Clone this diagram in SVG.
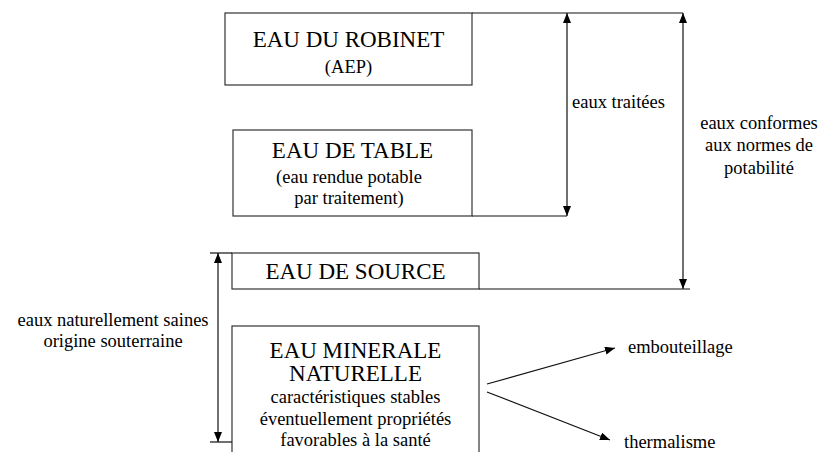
<svg xmlns="http://www.w3.org/2000/svg" width="823" height="452" viewBox="0 0 823 452">
<style>
text{font-family:"Liberation Serif",Tinos,"Times New Roman",Times,"Nimbus Roman","Nimbus Roman No9 L",FreeSerif,"Noto Serif","DejaVu Serif","Bitstream Vera Serif",Georgia,serif;fill:#000}
.big{font-size:23px}
.sm{font-size:18.5px}
.box{fill:#fff;stroke:#333;stroke-width:1.2}
.ln{stroke:#111;stroke-width:1.2;fill:none}
</style>
<defs>
<marker id="ah" viewBox="0 0 10 8" refX="10" refY="4" markerWidth="10" markerHeight="8" markerUnits="userSpaceOnUse" orient="auto-start-reverse">
<path d="M0,0 L10,4 L0,8 z" fill="#000"/>
</marker>
</defs>
<g id="robinet">
<rect class="box" x="225" y="13" width="247" height="72"/>
<text class="big" x="348.5" y="47" text-anchor="middle">EAU DU ROBINET</text>
<text class="sm" x="348.5" y="73" text-anchor="middle">(AEP)</text>
</g>
<g id="table">
<rect class="box" x="233" y="130" width="239" height="86"/>
<text class="big" x="352.5" y="158" text-anchor="middle">EAU DE TABLE</text>
<text class="sm" x="349" y="183" text-anchor="middle">(eau rendue potable</text>
<text class="sm" x="349" y="204" text-anchor="middle">par traitement)</text>
</g>
<g id="source">
<rect class="box" x="232" y="253" width="247" height="36"/>
<text class="big" x="355.5" y="279" text-anchor="middle">EAU DE SOURCE</text>
</g>
<g id="minerale">
<rect class="box" x="232" y="326" width="247" height="140"/>
<text class="big" x="355.5" y="358" text-anchor="middle">EAU MINERALE</text>
<text class="big" x="355.5" y="381" text-anchor="middle">NATURELLE</text>
<text class="sm" x="355.5" y="403" text-anchor="middle">caractéristiques stables</text>
<text class="sm" x="355.5" y="425" text-anchor="middle">éventuellement propriétés</text>
<text class="sm" x="355.5" y="446" text-anchor="middle">favorables à la santé</text>
</g>
<g id="labels">
<text class="sm" x="572" y="108">eaux traitées</text>
<text class="sm" x="759" y="129" text-anchor="middle">eaux conformes</text>
<text class="sm" x="759" y="151" text-anchor="middle">aux normes de</text>
<text class="sm" x="759" y="174" text-anchor="middle">potabilité</text>
<text class="sm" x="113" y="326" text-anchor="middle">eaux naturellement saines</text>
<text class="sm" x="113" y="347" text-anchor="middle">origine souterraine</text>
<text class="sm" x="628" y="353">embouteillage</text>
<text class="sm" x="624" y="448">thermalisme</text>
</g>
<g id="connectors">
<line class="ln" x1="472" y1="13" x2="683" y2="13"/>
<line class="ln" x1="472" y1="216" x2="567" y2="216"/>
<line class="ln" x1="479" y1="289" x2="690" y2="289"/>
<line class="ln" x1="210" y1="253" x2="232" y2="253"/>
<line class="ln" x1="210" y1="442" x2="232" y2="442"/>
<line class="ln" x1="567" y1="13" x2="567" y2="216" marker-start="url(#ah)" marker-end="url(#ah)"/>
<line class="ln" x1="683" y1="13" x2="683" y2="289" marker-start="url(#ah)" marker-end="url(#ah)"/>
<line class="ln" x1="218" y1="253" x2="218" y2="442" marker-start="url(#ah)" marker-end="url(#ah)"/>
<line class="ln" x1="487" y1="384" x2="615" y2="348" marker-end="url(#ah)"/>
<line class="ln" x1="487" y1="392" x2="610" y2="440" marker-end="url(#ah)"/>
</g>
</svg>
